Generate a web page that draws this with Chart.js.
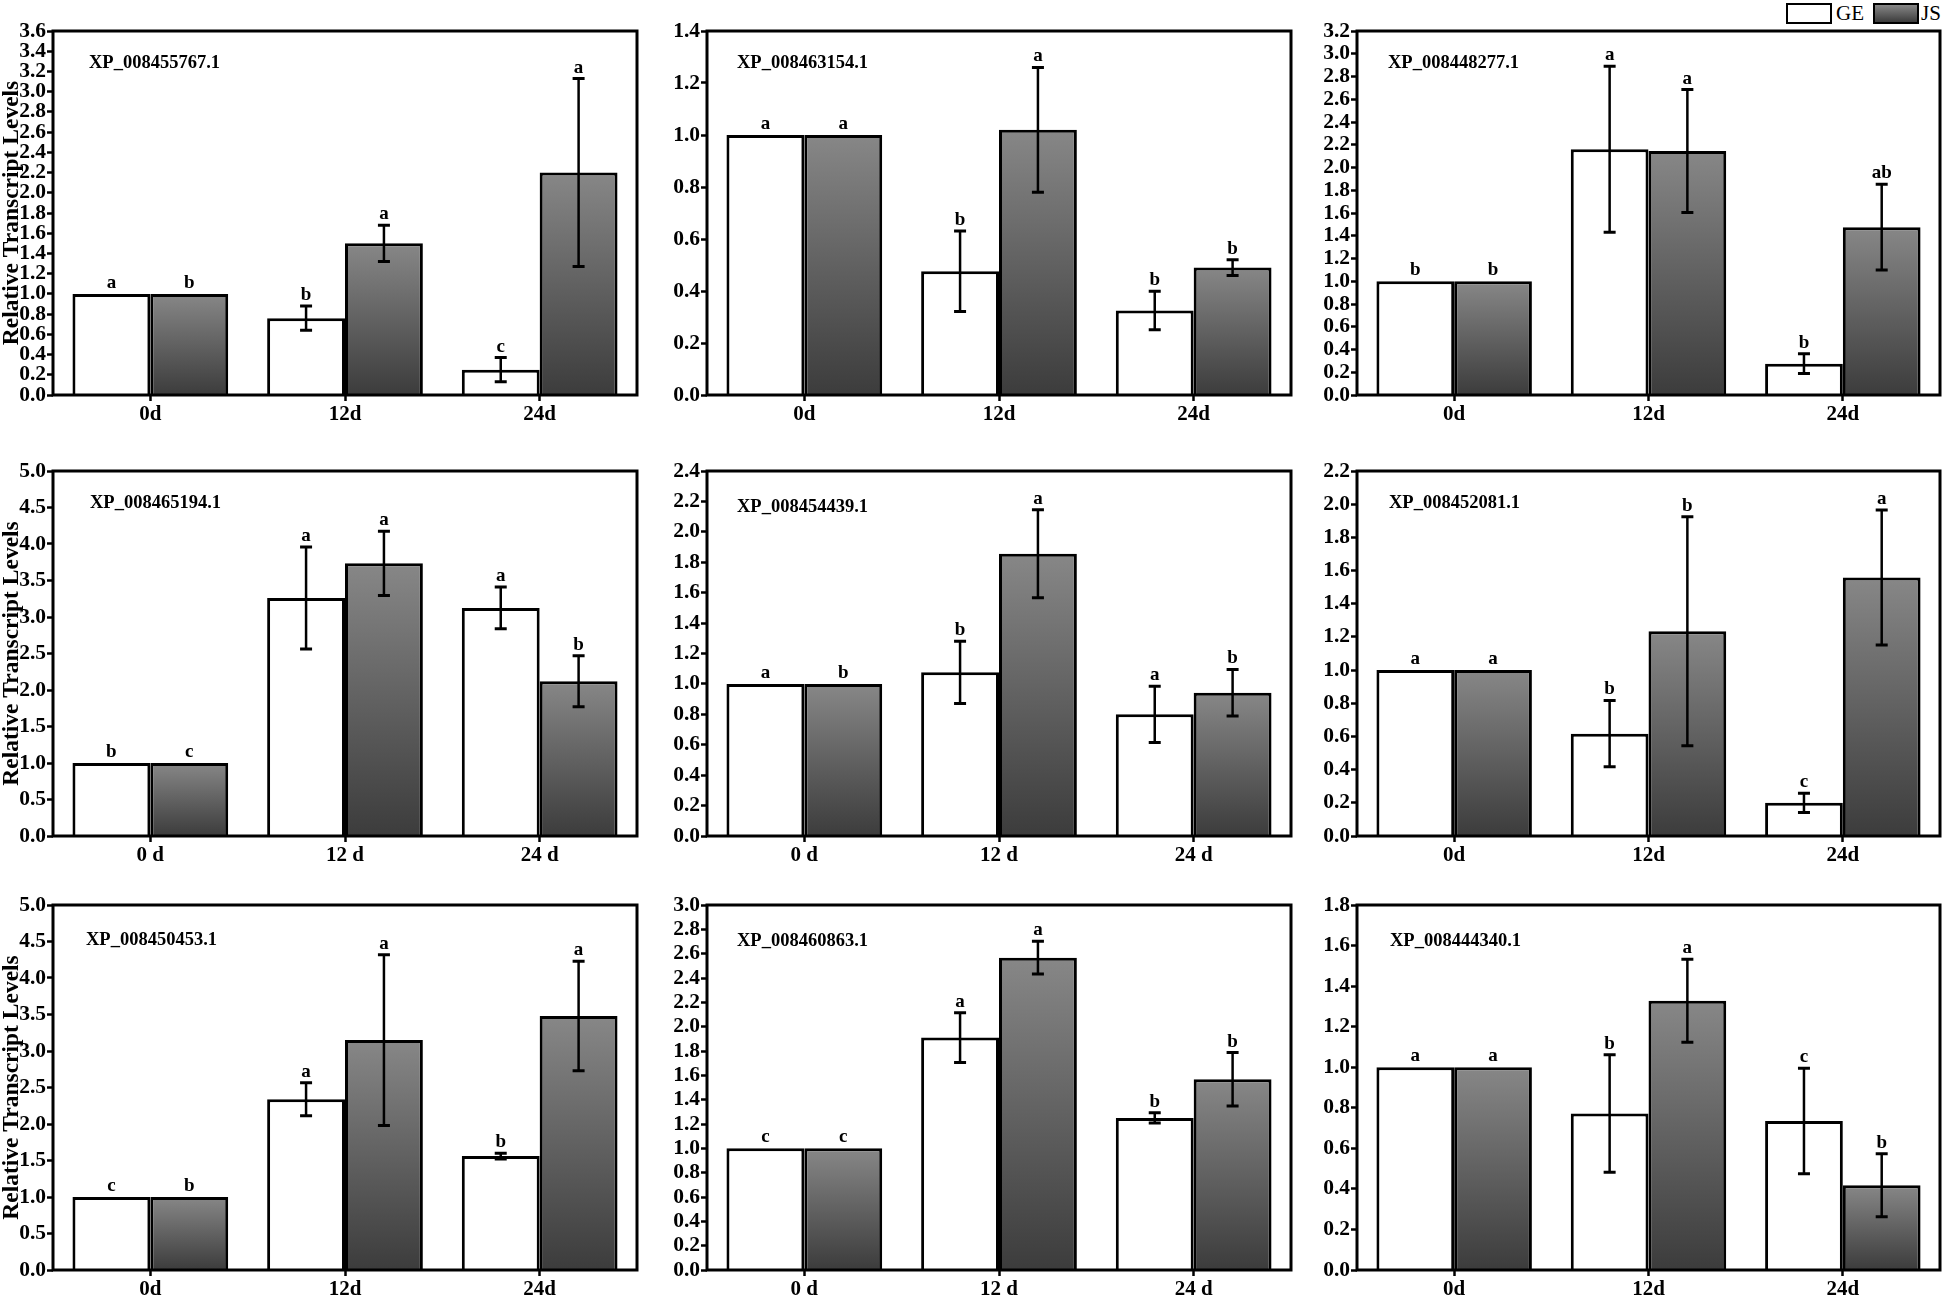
<!DOCTYPE html>
<html>
<head>
<meta charset="utf-8">
<script src="https://cdn.jsdelivr.net/npm/chart.js@4.4.1/dist/chart.umd.min.js"></script>
<style>
html,body{margin:0;padding:0;background:#fff;width:1943px;height:1295px;overflow:hidden;position:relative}
canvas{position:absolute}
.lg-box{position:absolute;box-sizing:border-box;border:2.5px solid #000;height:21px;width:46px;top:3px}
.lg-txt{position:absolute;top:1px;font-family:'Liberation Serif',serif;font-size:21px;line-height:24px;color:#000}
</style>
</head>
<body>
<div class="lg-box" style="left:1786px;background:#fff"></div>
<div class="lg-txt" style="left:1836px">GE</div>
<div class="lg-box" style="left:1873px;background:linear-gradient(#878787,#3c3c3c)"></div>
<div class="lg-txt" style="left:1921px">JS</div>
<script>
// ---------------- DATA ----------------
const geneIds = ['XP_008455767.1','XP_008463154.1','XP_008448277.1',
                 'XP_008465194.1','XP_008454439.1','XP_008452081.1',
                 'XP_008450453.1','XP_008460863.1','XP_008444340.1'];
const daysCompact = ['0d','12d','24d'];
const daysSpaced  = ['0 d','12 d','24 d'];
const panelDays = [daysCompact, daysCompact, daysCompact,
                   daysSpaced, daysSpaced, daysCompact,
                   daysCompact, daysSpaced, daysCompact];
const seriesNames = ['GE','JS'];
const geMeans = [[1,0.76,0.25],[1,0.476,0.325],[1,2.16,0.275],
                 [1,3.26,3.125],[1,1.076,0.80],[1,0.617,0.20],
                 [1,2.34,1.56],[1,1.91,1.25],[1,0.772,0.735]];
const jsMeans = [[1,1.50,2.20],[1,1.02,0.49],[1,2.145,1.475],
                 [1,3.735,2.12],[1,1.856,0.942],[1,1.234,1.558],
                 [1,3.15,3.48],[1,2.567,1.567],[1,1.328,0.418]];
const geErr = [[0,0.12,0.12],[0,0.155,0.074],[0,0.73,0.087],
               [0,0.70,0.285],[0,0.205,0.185],[0,0.20,0.058],
               [0,0.226,0.04],[0,0.205,0.042],[0,0.29,0.26]];
const jsErr = [[0,0.18,0.93],[0,0.24,0.03],[0,0.54,0.377],
               [0,0.44,0.35],[0,0.29,0.153],[0,0.69,0.407],
               [0,1.17,0.75],[0,0.135,0.22],[0,0.205,0.155]];
const geLetters = [['a','b','c'],['a','b','b'],['b','a','b'],
                   ['b','a','a'],['a','b','a'],['a','b','c'],
                   ['c','a','b'],['c','a','b'],['a','b','c']];
const jsLetters = [['b','a','a'],['a','a','b'],['b','a','ab'],
                   ['c','a','b'],['b','a','b'],['a','b','a'],
                   ['b','a','a'],['c','a','b'],['a','a','b']];
const yMax  = [3.6,1.4,3.2, 5.0,2.4,2.2, 5.0,3.0,1.8];
const yStep = [0.2,0.2,0.2, 0.5,0.2,0.2, 0.5,0.2,0.2];
const yTitle = 'Relative Transcript Levels';

// ---------------- LAYOUT ----------------
const colL = [53, 707, 1357], colR = [637, 1291, 1940];
const rowT = [31, 471, 905],  rowB = [395, 836, 1270];
const titleOff = [[36,32],[30,32],[31,32],[37,32],[30,36],[32,32],[33,35],[30,36],[33,36]];
const SERIF = "'Liberation Serif', 'Times New Roman', serif";

const boxPlugin = {
  id: 'panelDecor',
  afterDatasetsDraw(chart, args, opts) {
    const {ctx, chartArea: a} = chart;
    const ys = chart.scales.y;
    const p = opts.panel;
    const errs = [geErr[p], jsErr[p]];
    const means = [geMeans[p], jsMeans[p]];
    const letters = [geLetters[p], jsLetters[p]];
    ctx.save();
    ctx.strokeStyle = '#000';
    for (let d = 0; d < 2; d++) {
      const meta = chart.getDatasetMeta(d);
      meta.data.forEach((bar, j) => {
        const e = errs[d][j];
        if (!e) return;
        const yt = ys.getPixelForValue(means[d][j] + e);
        const yb = ys.getPixelForValue(means[d][j] - e);
        ctx.lineWidth = 2.5;
        ctx.beginPath(); ctx.moveTo(bar.x, yt); ctx.lineTo(bar.x, yb); ctx.stroke();
        ctx.lineWidth = 3;
        ctx.beginPath();
        ctx.moveTo(bar.x - 6, yt); ctx.lineTo(bar.x + 6, yt);
        ctx.moveTo(bar.x - 6, yb); ctx.lineTo(bar.x + 6, yb);
        ctx.stroke();
      });
    }
    ctx.fillStyle = '#000';
    ctx.font = 'bold 19px ' + SERIF;
    ctx.textAlign = 'center';
    ctx.textBaseline = 'alphabetic';
    for (let d = 0; d < 2; d++) {
      const meta = chart.getDatasetMeta(d);
      meta.data.forEach((bar, j) => {
        const yt = ys.getPixelForValue(means[d][j] + errs[d][j]);
        ctx.fillText(letters[d][j], bar.x, yt - 6);
      });
    }
    ctx.font = 'bold 18.5px ' + SERIF;
    ctx.textAlign = 'left';
    ctx.textBaseline = 'middle';
    ctx.fillText(geneIds[p], a.left + titleOff[p][0], a.top + titleOff[p][1]);
    ctx.lineWidth = 3;
    ctx.strokeRect(a.left, a.top, a.right - a.left, a.bottom - a.top);
    ctx.restore();
  }
};

function jsGradient(c) {
  const chart = c.chart;
  const ys = chart.scales && chart.scales.y;
  if (!ys || c.raw == null) return '#606060';
  const top = ys.getPixelForValue(c.raw), base = ys.getPixelForValue(0);
  if (!isFinite(top) || !isFinite(base) || top === base) return '#606060';
  const g = chart.ctx.createLinearGradient(0, top, 0, base);
  g.addColorStop(0, '#878787');
  g.addColorStop(1, '#3c3c3c');
  return g;
}

for (let p = 0; p < 9; p++) {
  const col = p % 3, row = Math.floor(p / 3);
  const L = colL[col], R = colR[col], T = rowT[row], B = rowB[row];
  const axisW = col === 0 ? L : 60;
  const padTop = 14, padRight = 4, xAxisH = 40;
  const cv = document.createElement('canvas');
  const w = R - L + axisW + padRight, h = B - T + padTop + xAxisH;
  cv.width = w; cv.height = h;
  cv.style.left = (L - axisW) + 'px'; cv.style.top = (T - padTop) + 'px';
  cv.style.width = w + 'px'; cv.style.height = h + 'px';
  document.body.appendChild(cv);
  const yFont = {family: SERIF, weight: 'bold', size: 21.5};
  const xFont = {family: SERIF, weight: 'bold', size: 21};
  new Chart(cv, {
    type: 'bar',
    data: {
      labels: panelDays[p],
      datasets: [
        {label: seriesNames[0], data: geMeans[p], backgroundColor: '#ffffff', borderColor: '#000',
         borderWidth: 3, categoryPercentage: 0.8, barPercentage: 1.0},
        {label: seriesNames[1], data: jsMeans[p], backgroundColor: jsGradient, borderColor: '#000',
         borderWidth: 3, categoryPercentage: 0.8, barPercentage: 1.0}
      ]
    },
    options: {
      responsive: false, animation: false, devicePixelRatio: 1,
      layout: {padding: {top: padTop, right: padRight, left: 0, bottom: 0}},
      plugins: {legend: {display: false}, tooltip: {enabled: false}, panelDecor: {panel: p}},
      scales: {
        x: {
          offset: true,
          grid: {display: true, offset: false, drawOnChartArea: false, drawTicks: true,
                 tickLength: 6, tickWidth: 2.5, tickColor: '#000'},
          border: {display: false},
          ticks: {font: xFont, color: '#000', padding: 1, maxRotation: 0},
          afterFit: s => { s.height = xAxisH; }
        },
        y: {
          min: 0, max: yMax[p],
          ticks: {stepSize: yStep[p], autoSkip: false, font: yFont, color: '#000', padding: 1,
                  callback: v => Number(v).toFixed(1)},
          grid: {drawOnChartArea: false, tickLength: 6, tickWidth: 2.5, tickColor: '#000'},
          border: {display: false},
          title: {display: col === 0, text: yTitle, color: '#000',
                  font: {family: SERIF, weight: 'bold', size: 23.5, lineHeight: 1},
                  padding: {top: 0, bottom: 0}},
          afterFit: s => { s.width = axisW; }
        }
      }
    },
    plugins: [boxPlugin]
  });
}
</script>
</body>
</html>
